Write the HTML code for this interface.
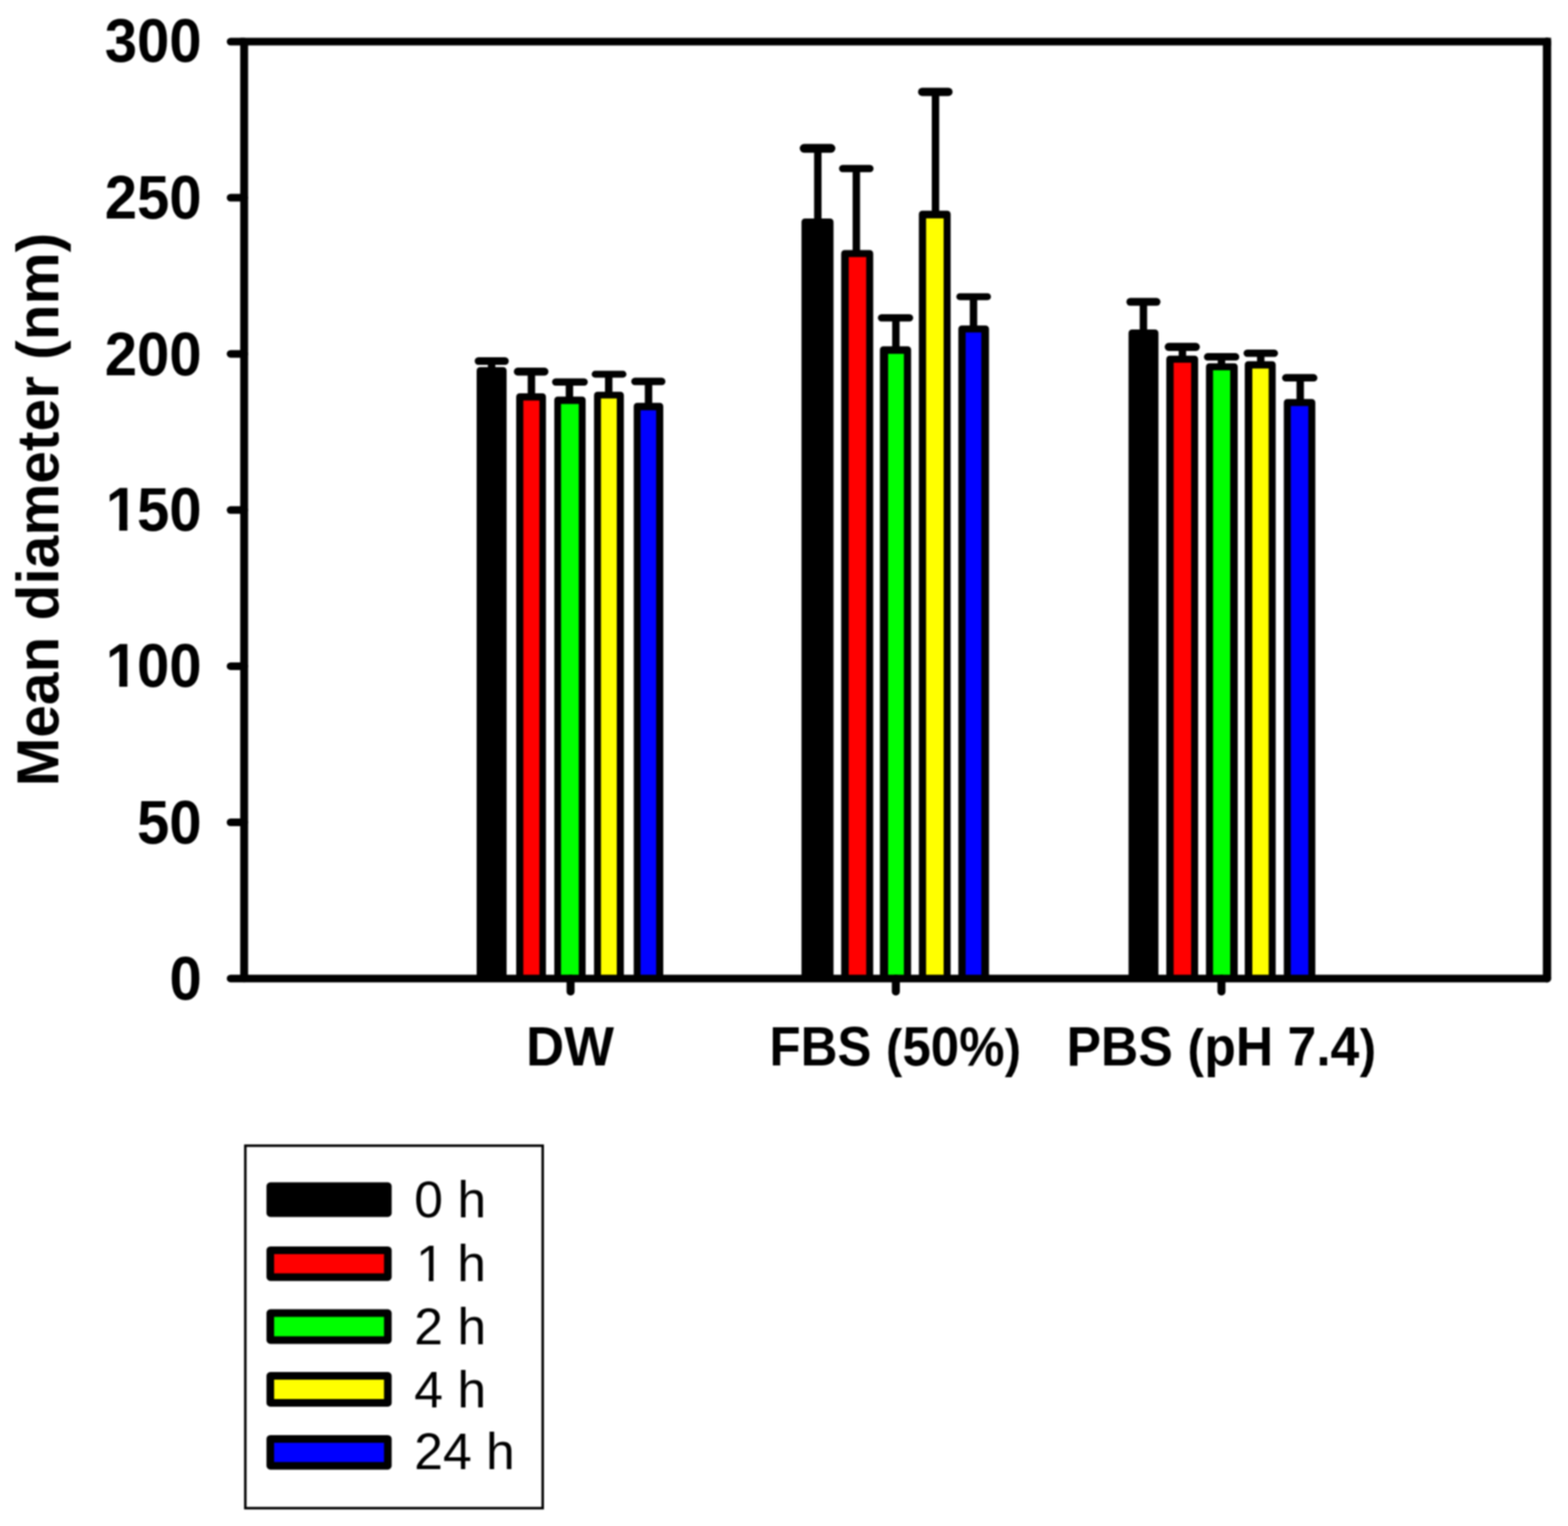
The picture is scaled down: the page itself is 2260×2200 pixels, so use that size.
<!DOCTYPE html>
<html lang="en"><head><meta charset="utf-8"><title>Mean diameter (nm)</title>
<style>
html,body{margin:0;padding:0;background:#fff;}
body{width:2260px;height:2200px;overflow:hidden;}
svg{display:block;filter:blur(1px);}
text{font-family:"Liberation Sans",Arial,Helvetica,sans-serif;fill:#000;}
.b{font-weight:bold;}
</style></head><body>
<svg width="2260" height="2200" viewBox="0 0 2260 2200" role="img" aria-label="Bar chart of mean diameter (nm) in DW, FBS (50%) and PBS (pH 7.4) at 0, 1, 2, 4 and 24 h">
<rect x="-10" y="-10" width="2280" height="2220" fill="#fff"/>
<g fill="#000">
<rect x="703.2" y="520.5" width="10.7" height="14.7"/>
<rect x="684.2" y="515.0" width="49.1" height="11.0" rx="5.5"/>
<path d="M687.0 1410.7 V534.7 Q687.0 529.2 692.5 529.2 H724.7 Q730.2 529.2 730.2 534.7 V1410.7 Z"/>
<rect x="760.6" y="535.8" width="10.7" height="37.2"/>
<rect x="740.6" y="530.1" width="49.9" height="11.3" rx="5.6"/>
<path d="M744.0 1410.7 V572.5 Q744.0 567.0 749.5 567.0 H781.4 Q786.9 567.0 786.9 572.5 V1410.7 Z"/>
<rect x="754.3" y="577.4" width="23.2" height="833.3" fill="#ff0000"/>
<rect x="815.4" y="550.6" width="10.7" height="27.1"/>
<rect x="795.7" y="545.4" width="51.5" height="10.5" rx="5.2"/>
<path d="M798.9 1410.7 V577.2 Q798.9 571.7 804.4 571.7 H838.6 Q844.1 571.7 844.1 577.2 V1410.7 Z"/>
<rect x="808.6" y="582.4" width="25.6" height="828.3" fill="#00ff00"/>
<rect x="872.0" y="539.5" width="10.7" height="31.3"/>
<rect x="852.8" y="534.4" width="50.1" height="10.2" rx="5.1"/>
<path d="M856.2 1410.7 V570.3 Q856.2 564.8 861.7 564.8 H893.7 Q899.2 564.8 899.2 570.3 V1410.7 Z"/>
<rect x="866.2" y="574.5" width="22.8" height="836.2" fill="#ffff00"/>
<rect x="929.4" y="550.0" width="10.7" height="36.8"/>
<rect x="909.8" y="544.6" width="49.3" height="10.7" rx="5.3"/>
<path d="M913.4 1410.7 V586.3 Q913.4 580.8 918.9 580.8 H950.5 Q956.0 580.8 956.0 586.3 V1410.7 Z"/>
<rect x="923.3" y="591.5" width="22.4" height="819.2" fill="#0000ff"/>
<rect x="1173.4" y="213.9" width="10.7" height="107.2"/>
<rect x="1152.7" y="207.6" width="51.3" height="12.6" rx="6.3"/>
<path d="M1155.2 1410.7 V320.6 Q1155.2 315.1 1160.7 315.1 H1195.9 Q1201.4 315.1 1201.4 320.6 V1410.7 Z"/>
<rect x="1228.9" y="243.0" width="10.7" height="123.5"/>
<rect x="1209.3" y="237.8" width="49.8" height="10.4" rx="5.2"/>
<path d="M1212.4 1410.7 V366.0 Q1212.4 360.5 1217.9 360.5 H1253.1 Q1258.6 360.5 1258.6 366.0 V1410.7 Z"/>
<rect x="1223.3" y="370.6" width="25.2" height="1040.1" fill="#ff0000"/>
<rect x="1285.9" y="458.2" width="10.7" height="47.0"/>
<rect x="1265.3" y="452.9" width="50.9" height="10.6" rx="5.3"/>
<path d="M1268.2 1410.7 V504.7 Q1268.2 499.2 1273.7 499.2 H1307.7 Q1313.2 499.2 1313.2 504.7 V1410.7 Z"/>
<rect x="1280.1" y="510.1" width="22.7" height="900.6" fill="#00ff00"/>
<rect x="1343.0" y="132.5" width="10.7" height="177.3"/>
<rect x="1323.2" y="126.4" width="49.8" height="12.2" rx="6.1"/>
<path d="M1324.4 1410.7 V309.3 Q1324.4 303.8 1329.9 303.8 H1364.7 Q1370.2 303.8 1370.2 309.3 V1410.7 Z"/>
<rect x="1334.8" y="314.8" width="25.3" height="1095.9" fill="#ffff00"/>
<rect x="1397.8" y="427.8" width="10.7" height="47.4"/>
<rect x="1378.4" y="422.7" width="49.9" height="10.1" rx="5.1"/>
<path d="M1381.3 1410.7 V474.7 Q1381.3 469.2 1386.8 469.2 H1420.0 Q1425.5 469.2 1425.5 474.7 V1410.7 Z"/>
<rect x="1391.8" y="479.3" width="22.6" height="931.4" fill="#0000ff"/>
<rect x="1642.7" y="435.2" width="10.7" height="45.8"/>
<rect x="1623.5" y="429.6" width="49.1" height="11.2" rx="5.6"/>
<path d="M1626.6 1410.7 V480.5 Q1626.6 475.0 1632.1 475.0 H1664.2 Q1669.7 475.0 1669.7 480.5 V1410.7 Z"/>
<rect x="1698.9" y="500.1" width="10.7" height="18.6"/>
<rect x="1678.7" y="494.3" width="50.7" height="11.7" rx="5.8"/>
<path d="M1681.0 1410.7 V518.3 Q1681.0 512.8 1686.5 512.8 H1721.4 Q1726.9 512.8 1726.9 518.3 V1410.7 Z"/>
<rect x="1691.6" y="522.9" width="25.2" height="887.8" fill="#ff0000"/>
<rect x="1755.2" y="514.5" width="10.7" height="15.2"/>
<rect x="1735.3" y="509.1" width="50.9" height="10.7" rx="5.3"/>
<path d="M1738.2 1410.7 V529.2 Q1738.2 523.7 1743.7 523.7 H1778.5 Q1784.0 523.7 1784.0 529.2 V1410.7 Z"/>
<rect x="1748.4" y="533.8" width="24.7" height="876.9" fill="#00ff00"/>
<rect x="1811.8" y="509.2" width="10.7" height="17.5"/>
<rect x="1792.4" y="504.0" width="49.6" height="10.5" rx="5.2"/>
<path d="M1794.1 1410.7 V526.3 Q1794.1 520.8 1799.6 520.8 H1833.2 Q1838.7 520.8 1838.7 526.3 V1410.7 Z"/>
<rect x="1805.0" y="531.3" width="23.6" height="879.4" fill="#ffff00"/>
<rect x="1868.7" y="544.7" width="10.7" height="36.6"/>
<rect x="1847.9" y="539.3" width="50.9" height="10.8" rx="5.4"/>
<path d="M1850.4 1410.7 V580.8 Q1850.4 575.3 1855.9 575.3 H1890.3 Q1895.8 575.3 1895.8 580.8 V1410.7 Z"/>
<rect x="1860.5" y="585.4" width="25.2" height="825.3" fill="#0000ff"/>
</g>
<g stroke="#000" fill="none" stroke-linecap="round">
<line x1="352.0" y1="60.0" x2="2230.1" y2="60.0" stroke-width="11.0" stroke-linecap="square"/>
<line x1="351.9" y1="60.0" x2="351.9" y2="1410.7" stroke-width="11.4" stroke-linecap="butt"/>
<line x1="2229.75" y1="60.0" x2="2229.75" y2="1410.4" stroke-width="12.0"/>
<line x1="352.0" y1="1410.7" x2="2230.1" y2="1410.7" stroke-width="10.9"/>
<line x1="332.3" y1="285.1" x2="352.0" y2="285.1" stroke-width="11.0"/>
<line x1="332.3" y1="510.2" x2="352.0" y2="510.2" stroke-width="11.0"/>
<line x1="332.3" y1="735.3" x2="352.0" y2="735.3" stroke-width="11.0"/>
<line x1="332.3" y1="960.4" x2="352.0" y2="960.4" stroke-width="11.0"/>
<line x1="332.3" y1="1185.5" x2="352.0" y2="1185.5" stroke-width="11.0"/>
<line x1="332.3" y1="60.05" x2="352.0" y2="60.05" stroke-width="11.0"/>
<line x1="332.3" y1="1410.7" x2="352.0" y2="1410.7" stroke-width="10.9"/>
<line x1="822.4" y1="1410.7" x2="822.4" y2="1429.4" stroke-width="11.6"/>
<line x1="1291.2" y1="1410.7" x2="1291.2" y2="1429.4" stroke-width="11.6"/>
<line x1="1760.5" y1="1410.7" x2="1760.5" y2="1429.4" stroke-width="11.6"/>
</g>
<text class="b" transform="translate(290.70 89.16) scale(0.9910 1.0580)" font-size="84.5" text-anchor="end">300</text>
<text class="b" transform="translate(290.70 314.96) scale(0.9910 1.0580)" font-size="84.5" text-anchor="end">250</text>
<text class="b" transform="translate(290.70 540.66) scale(0.9910 1.0580)" font-size="84.5" text-anchor="end">200</text>
<text class="b" transform="translate(150.98 764.76) scale(0.9910 1.0580)" font-size="84.5"><tspan x="1.5">1</tspan><tspan x="46.99">50</tspan></text>
<rect x="154.0" y="754.86" width="17.9" height="11.6" fill="#fff"/>
<rect x="183.6" y="754.86" width="15.2" height="11.6" fill="#fff"/>
<text class="b" transform="translate(150.98 989.96) scale(0.9910 1.0580)" font-size="84.5"><tspan x="1.5">1</tspan><tspan x="46.99">00</tspan></text>
<rect x="154.0" y="980.06" width="17.9" height="11.6" fill="#fff"/>
<rect x="183.6" y="980.06" width="15.2" height="11.6" fill="#fff"/>
<text class="b" transform="translate(290.70 1216.26) scale(0.9910 1.0580)" font-size="84.5" text-anchor="end">50</text>
<text class="b" transform="translate(290.70 1440.76) scale(0.9910 1.0580)" font-size="84.5" text-anchor="end">0</text>
<text class="b" transform="translate(84.00 734.75) rotate(-90)" font-size="84.5" text-anchor="middle">Mean diameter (nm)</text>
<text class="b" transform="translate(821.66 1535.80) scale(1.0200 1.0760)" font-size="74.5" text-anchor="middle">DW</text>
<text class="b" transform="translate(1290.36 1535.80) scale(0.9864 1.0760)" font-size="74.5" text-anchor="middle">FBS <tspan font-size="71.1" dx="0.5" dy="0.7">(</tspan><tspan dx="0.5" dy="-0.7">50%</tspan><tspan font-size="71.1" dx="0.5" dy="0.7">)</tspan></text>
<text class="b" transform="translate(1760.30 1535.80) scale(1.0000 1.0760)" font-size="74.5" text-anchor="middle">PBS <tspan font-size="71.1" dx="0.5" dy="0.7">(</tspan><tspan dx="0.5" dy="-0.7">pH 7.4</tspan><tspan font-size="71.1" dx="0.5" dy="0.7">)</tspan></text>
<rect x="353.6" y="1651.7" width="428.6" height="522.6" fill="#fff" stroke="#000" stroke-width="3.6"/>
<rect x="389.6" y="1710.1" width="169.4" height="38.8" fill="#000000" stroke="#000" stroke-width="11" stroke-linejoin="round"/>
<text transform="translate(597.00 1754.60) scale(1.0000 0.9850)" font-size="74.5">0 h</text>
<rect x="389.6" y="1802.4" width="169.4" height="38.8" fill="#ff0000" stroke="#000" stroke-width="11" stroke-linejoin="round"/>
<text transform="translate(597.00 1846.80) scale(1.0000 0.9850)" font-size="74.5"><tspan x="2.4">1</tspan><tspan x="41.43"> h</tspan></text>
<rect x="600.0" y="1840.60" width="18.05" height="8.0" fill="#fff"/>
<rect x="624.8" y="1840.60" width="14.0" height="8.0" fill="#fff"/>
<rect x="389.6" y="1893.1" width="169.4" height="38.8" fill="#00ff00" stroke="#000" stroke-width="11" stroke-linejoin="round"/>
<text transform="translate(597.00 1938.00) scale(1.0000 0.9850)" font-size="74.5">2 h</text>
<rect x="389.6" y="1983.6" width="169.4" height="38.8" fill="#ffff00" stroke="#000" stroke-width="11" stroke-linejoin="round"/>
<text transform="translate(597.00 2028.60) scale(1.0000 0.9850)" font-size="74.5">4 h</text>
<rect x="389.6" y="2074.4" width="169.4" height="38.8" fill="#0000ff" stroke="#000" stroke-width="11" stroke-linejoin="round"/>
<text transform="translate(597.00 2118.40) scale(1.0000 0.9850)" font-size="74.5">24 h</text>
</svg>
</body></html>
